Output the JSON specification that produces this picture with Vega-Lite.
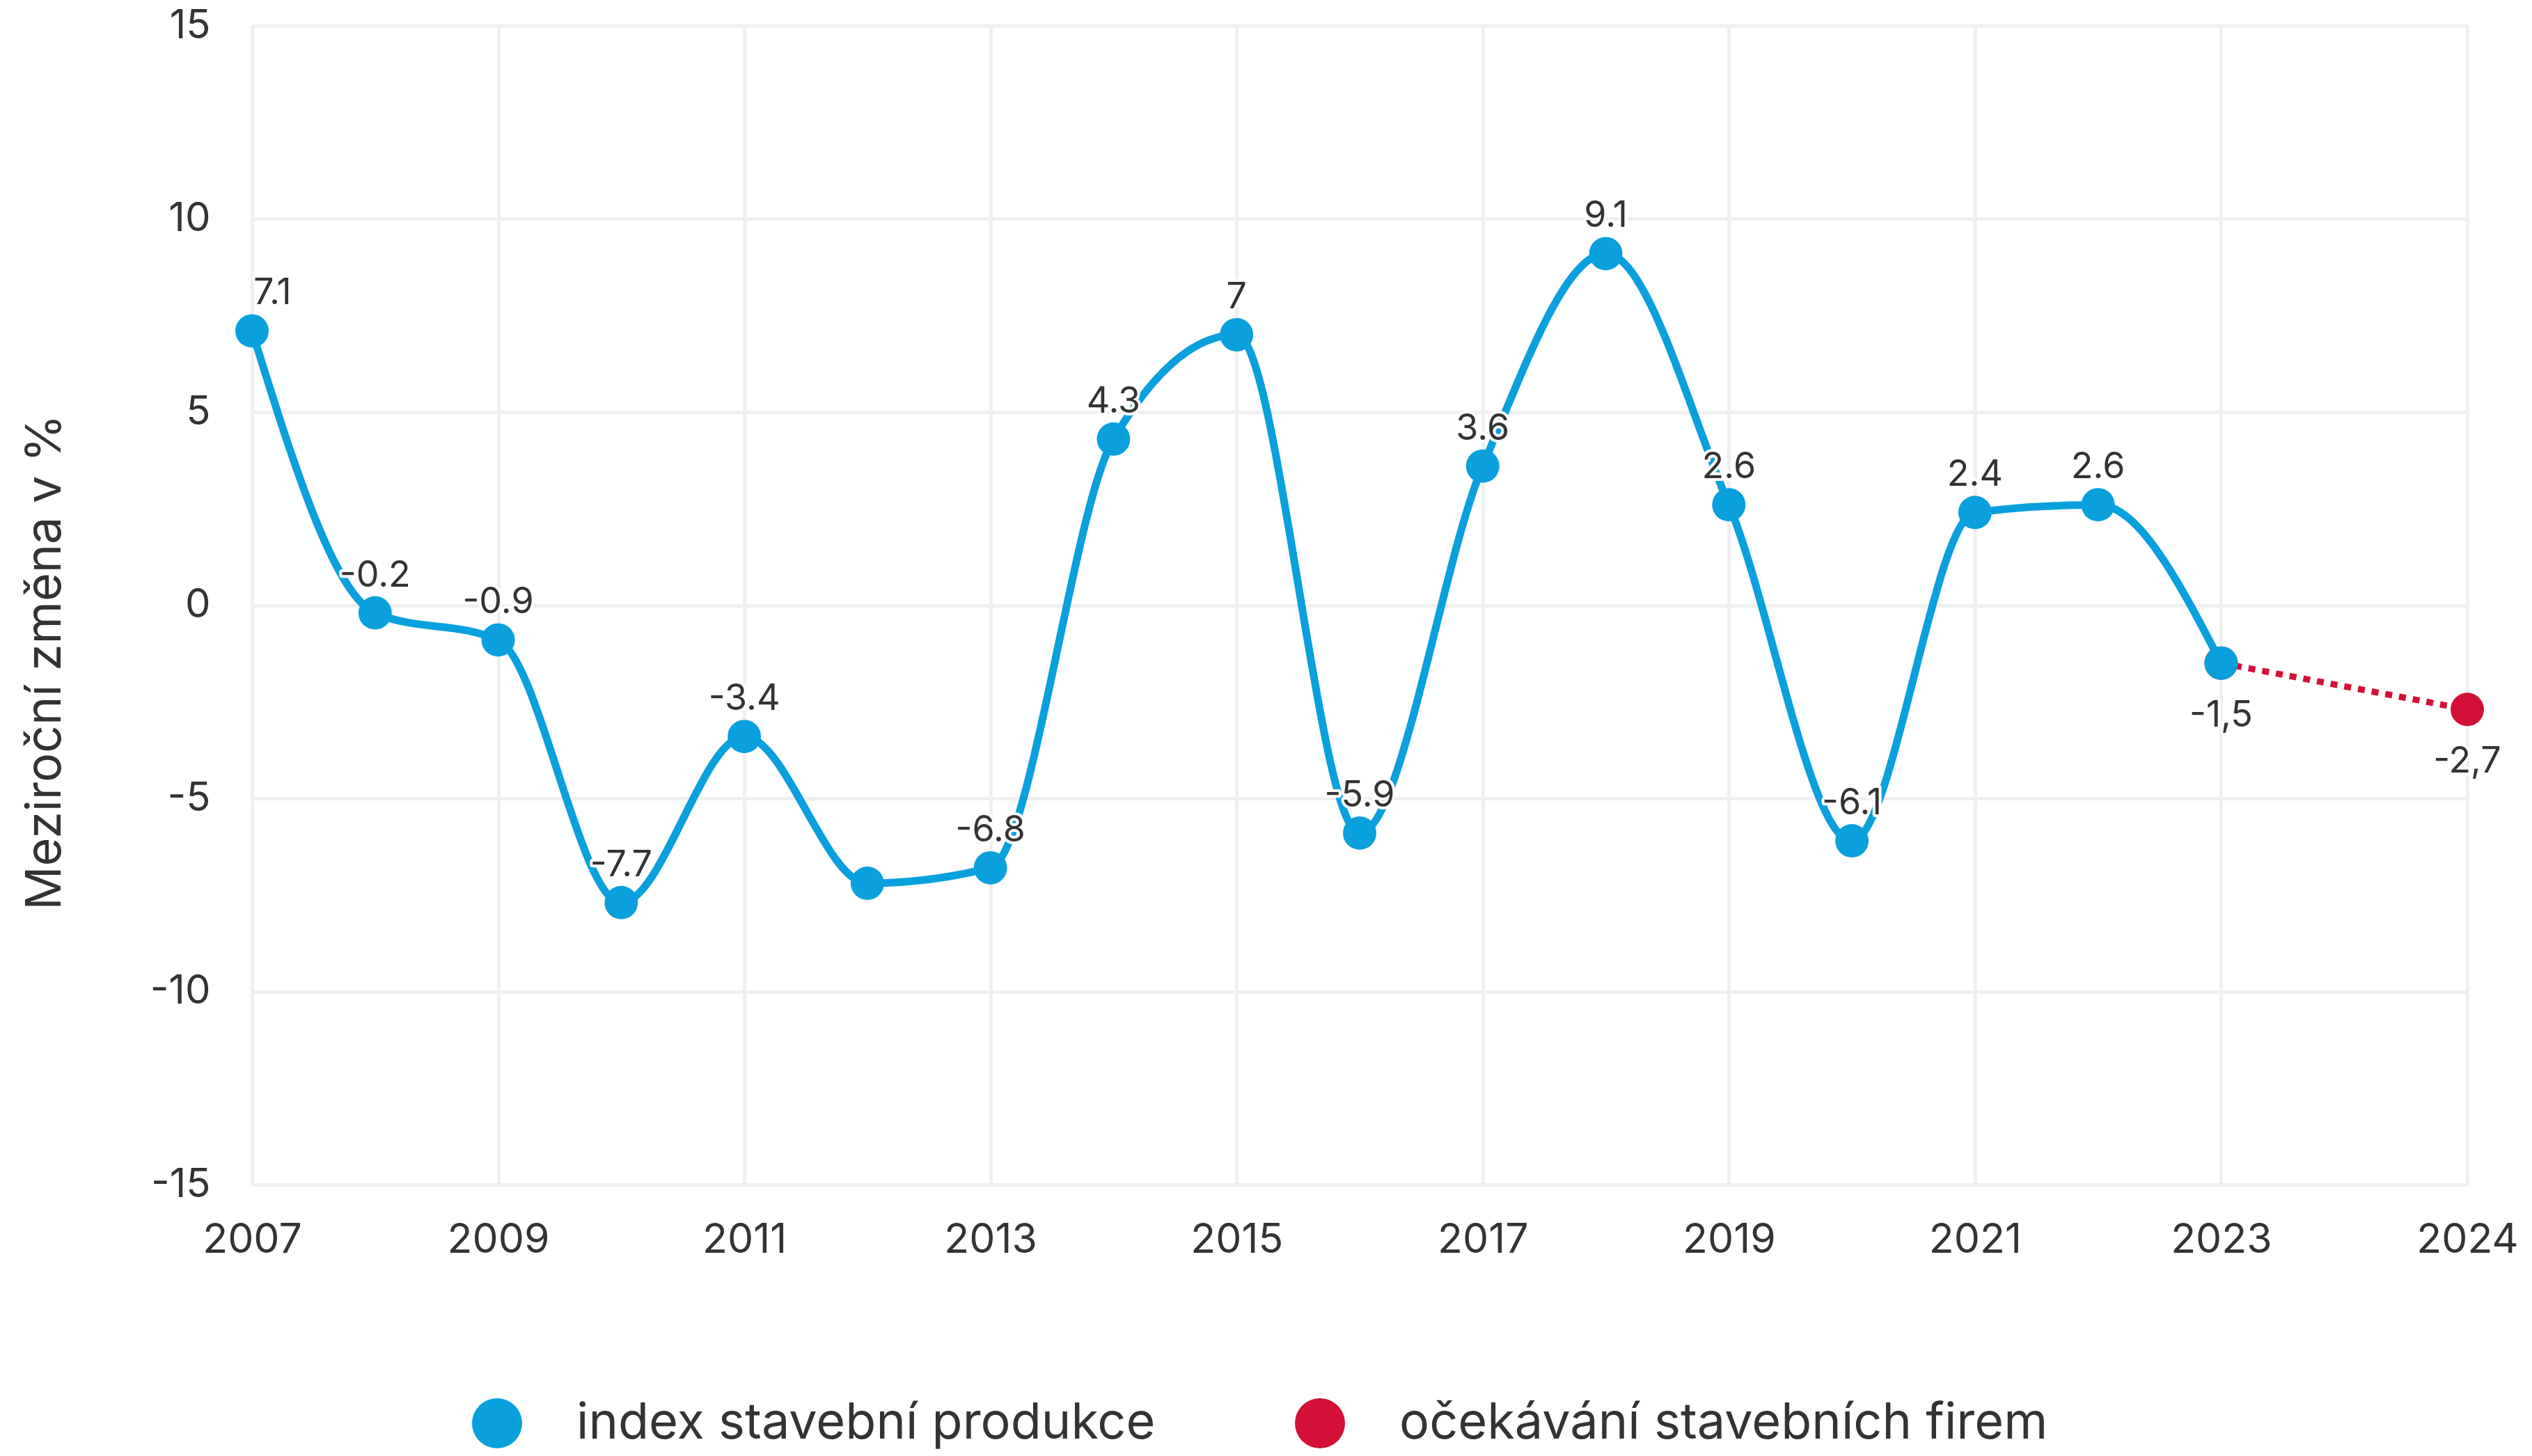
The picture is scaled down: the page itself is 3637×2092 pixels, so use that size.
{
  "$schema": "https://vega.github.io/schema/vega-lite/v6.json",
  "autosize": {"type": "none"},
  "width": 3182,
  "height": 1665,
  "padding": {"left": 362, "top": 37, "right": 93, "bottom": 390},
  "background": "white",
  "config": {
    "font": "Inter",
    "view": {"stroke": null},
    "axis": {"labelFont": "Inter", "titleFont": "Inter"}
  },
  "data": {
    "values": [
      {"year": "2007", "value": 7.1, "series": "index stavební produkce", "label": "7.1"},
      {"year": "2008", "value": -0.2, "series": "index stavební produkce", "label": "-0.2"},
      {"year": "2009", "value": -0.9, "series": "index stavební produkce", "label": "-0.9"},
      {"year": "2010", "value": -7.7, "series": "index stavební produkce", "label": "-7.7"},
      {"year": "2011", "value": -3.4, "series": "index stavební produkce", "label": "-3.4"},
      {"year": "2012", "value": -7.2, "series": "index stavební produkce", "label": null},
      {"year": "2013", "value": -6.8, "series": "index stavební produkce", "label": "-6.8"},
      {"year": "2014", "value": 4.3, "series": "index stavební produkce", "label": "4.3"},
      {"year": "2015", "value": 7, "series": "index stavební produkce", "label": "7"},
      {"year": "2016", "value": -5.9, "series": "index stavební produkce", "label": "-5.9"},
      {"year": "2017", "value": 3.6, "series": "index stavební produkce", "label": "3.6"},
      {"year": "2018", "value": 9.1, "series": "index stavební produkce", "label": "9.1"},
      {"year": "2019", "value": 2.6, "series": "index stavební produkce", "label": "2.6"},
      {"year": "2020", "value": -6.1, "series": "index stavební produkce", "label": "-6.1"},
      {"year": "2021", "value": 2.4, "series": "index stavební produkce", "label": "2.4"},
      {"year": "2022", "value": 2.6, "series": "index stavební produkce", "label": "2.6"},
      {"year": "2023", "value": -1.5, "series": "index stavební produkce", "label": null},
      {"year": "2023", "value": -1.5, "series": "očekávání stavebních firem", "label": "-1,5"},
      {"year": "2024", "value": -2.7, "series": "očekávání stavebních firem", "label": "-2,7"}
    ]
  },
  "encoding": {
    "x": {
      "field": "year",
      "type": "ordinal",
      "scale": {"type": "point", "padding": 0, "domain": ["2007","2008","2009","2010","2011","2012","2013","2014","2015","2016","2017","2018","2019","2020","2021","2022","2023","_","2024"]},
      "axis": {
        "values": ["2007","2009","2011","2013","2015","2017","2019","2021","2023","2024"],
        "title": null,
        "labelAngle": 0,
        "labelFontSize": 59,
        "labelColor": "#333333",
        "labelPadding": 79,
        "labelBaseline": "middle",
        "domain": false,
        "ticks": false,
        "grid": true,
        "gridColor": "#efefef",
        "gridWidth": 5,
        "labelFlush": false,
        "labelOverlap": false
      }
    },
    "y": {
      "field": "value",
      "type": "quantitative",
      "scale": {"domain": [-15, 15], "nice": false, "zero": false},
      "axis": {
        "values": [-15, -10, -5, 0, 5, 10, 15],
        "labelExpr": "toString(datum.value)",
        "title": "Meziroční změna v %",
        "titleFontSize": 70,
        "titleFontWeight": "normal",
        "titleColor": "#333333",
        "titleAngle": -90,
        "titleAlign": "center",
        "titleBaseline": "middle",
        "titleX": -297,
        "titleY": 914,
        "labelFontSize": 58,
        "labelColor": "#333333",
        "labelPadding": 60,
        "labelBaseline": "middle",
        "labelFlush": false,
        "domain": false,
        "ticks": false,
        "grid": true,
        "gridColor": "#efefef",
        "gridWidth": 5
      }
    },
    "color": {
      "field": "series",
      "type": "nominal",
      "scale": {"domain": ["index stavební produkce", "očekávání stavebních firem"], "range": ["#09a0dd", "#d31035"]},
      "legend": {
        "orient": "none",
        "legendX": 316,
        "legendY": 1972,
        "direction": "horizontal",
        "title": null,
        "padding": 0,
        "symbolType": "circle",
        "symbolSize": 5184,
        "symbolStrokeWidth": 0,
        "symbolOpacity": 1,
        "labelFontSize": 72,
        "labelColor": "#333333",
        "labelFont": "Inter",
        "labelOffset": 78,
        "columnPadding": 200,
        "labelLimit": 2000
      }
    }
  },
  "layer": [
    {
      "transform": [{"filter": "datum.series === 'index stavební produkce'"}],
      "mark": {"type": "line", "interpolate": "monotone", "strokeWidth": 11}
    },
    {
      "transform": [{"filter": "datum.series === 'očekávání stavebních firem'"}],
      "mark": {"type": "line", "strokeWidth": 9, "strokeDash": [10, 10]}
    },
    {
      "transform": [{"filter": "datum.series === 'očekávání stavebních firem'"}],
      "mark": {"type": "point", "filled": true, "size": 2300, "opacity": 1, "shape": "circle"}
    },
    {
      "transform": [{"filter": "datum.series === 'index stavební produkce'"}],
      "mark": {"type": "point", "filled": true, "size": 2300, "opacity": 1, "shape": "circle"}
    },
    {
      "transform": [{"filter": "datum.series === 'index stavební produkce' && datum.label != null && datum.year !== '2007'"}],
      "mark": {"type": "text", "fontSize": 52, "baseline": "middle", "align": "center", "dy": -54, "stroke": "white", "strokeWidth": 8, "strokeJoin": "round"},
      "encoding": {"text": {"field": "label"}, "color": {"value": "white"}}
    },
    {
      "transform": [{"filter": "datum.series === 'index stavební produkce' && datum.label != null && datum.year !== '2007'"}],
      "mark": {"type": "text", "fontSize": 52, "baseline": "middle", "align": "center", "dy": -54},
      "encoding": {"text": {"field": "label"}, "color": {"value": "#333333"}}
    },
    {
      "transform": [{"filter": "datum.year === '2007'"}],
      "mark": {"type": "text", "fontSize": 52, "baseline": "middle", "align": "left", "dx": 2, "dy": -54, "stroke": "white", "strokeWidth": 8, "strokeJoin": "round"},
      "encoding": {"text": {"field": "label"}, "color": {"value": "white"}}
    },
    {
      "transform": [{"filter": "datum.year === '2007'"}],
      "mark": {"type": "text", "fontSize": 52, "baseline": "middle", "align": "left", "dx": 2, "dy": -54},
      "encoding": {"text": {"field": "label"}, "color": {"value": "#333333"}}
    },
    {
      "transform": [{"filter": "datum.series === 'očekávání stavebních firem'"}],
      "mark": {"type": "text", "fontSize": 52, "baseline": "middle", "align": "center", "dy": 75, "stroke": "white", "strokeWidth": 8, "strokeJoin": "round"},
      "encoding": {"text": {"field": "label"}, "color": {"value": "white"}}
    },
    {
      "transform": [{"filter": "datum.series === 'očekávání stavebních firem'"}],
      "mark": {"type": "text", "fontSize": 52, "baseline": "middle", "align": "center", "dy": 75},
      "encoding": {"text": {"field": "label"}, "color": {"value": "#333333"}}
    }
  ]
}
